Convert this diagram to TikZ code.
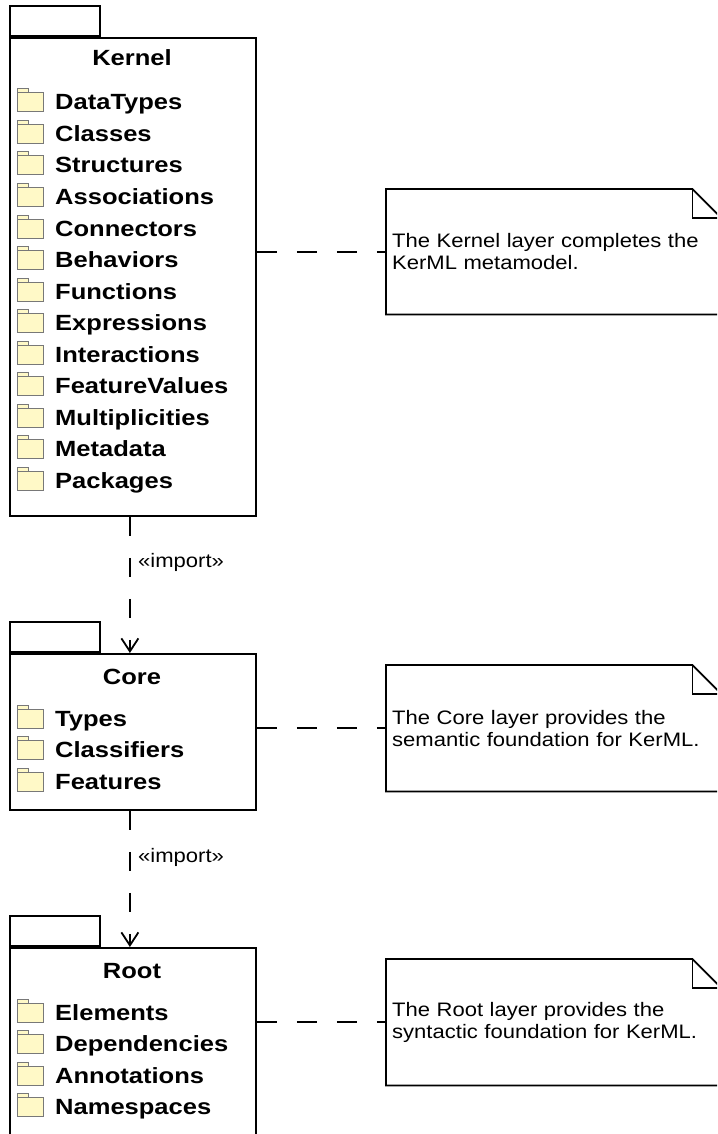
\documentclass[tikz,border=0pt]{standalone}
\usepackage{fontspec}
\setmainfont{Liberation Sans}[FakeStretch=1.13]
\newfontfamily\pkgfont{Liberation Sans}[FakeStretch=1.16]
\usetikzlibrary{arrows.meta}
\definecolor{folderfill}{RGB}{255,249,199}
\definecolor{folderline}{RGB}{120,120,120}
\tikzset{
  every picture/.style={x=1pt,y=-1pt},
  pkgbody/.style={draw, line width=1.8pt, rectangle, inner sep=0pt, minimum width=246pt, anchor=north west},
  pkgtab/.style={draw, line width=1.8pt, rectangle, inner sep=0pt, minimum width=90pt, minimum height=30pt, anchor=south west},
  ptitle/.style={font=\pkgfont\fontsize{22}{26}\selectfont\bfseries, inner sep=0pt, anchor=base},
  pitem/.style={font=\pkgfont\fontsize{22}{26}\selectfont\bfseries, inner sep=0pt, anchor=base west},
  folder/.pic={
    \draw[folderline, fill=folderfill, line width=1pt] (0,-13) rectangle (11,-9);
    \draw[folderline, fill=folderfill, line width=1pt] (0,-9) rectangle (26,10);
  },
  notenode/.style={rectangle, inner xsep=6pt, inner ysep=0pt, minimum width=335pt, text width=323pt, align=left, anchor=north west, font=\fontsize{19.5}{22}\selectfont},
  noteline/.style={draw, line width=1.8pt, line join=miter},
  notelink/.style={line width=1.8pt, dash pattern=on 20pt off 20pt},
  implink/.style={line width=1.8pt, dash pattern=on 19pt off 22pt, -{Straight Barb[length=13pt,width=17pt,line width=1.8pt]}},
  implabel/.style={font=\fontsize{19.5}{22}\selectfont, inner sep=0pt, anchor=west},
}
\begin{document}
\begin{tikzpicture}
\useasboundingbox (0,0) rectangle (717,1134);
\clip (0,0) rectangle (717,1134);

% ---------- Kernel ----------
\node[pkgbody, minimum height=478pt] (kernel) at (9,37) {};
\node[pkgtab] (kerneltab) at (kernel.north west) {};
\node[ptitle] (kerneltitle) at (132,66) {Kernel};
\foreach [count=\i] \t in {DataTypes,Classes,Structures,Associations,Connectors,Behaviors,Functions,Expressions,Interactions,FeatureValues,Multiplicities,Metadata,Packages}{
  \pic at (17,{102+31.5*(\i-1)}) {folder};
  \node[pitem] (k\i) at (55,{110+31.5*(\i-1)}) {\t};
}

% ---------- Core ----------
\node[pkgbody, minimum height=156pt] (core) at (9,653) {};
\node[pkgtab] (coretab) at (core.north west) {};
\node[ptitle] (coretitle) at (132,684) {Core};
\foreach [count=\i] \t in {Types,Classifiers,Features}{
  \pic at (17,{718+31.5*(\i-1)}) {folder};
  \node[pitem] (c\i) at (55,{726+31.5*(\i-1)}) {\t};
}

% ---------- Root ----------
\node[pkgbody, minimum height=203pt] (root) at (9,947) {};
\node[pkgtab] (roottab) at (root.north west) {};
\node[ptitle] (roottitle) at (132,978) {Root};
\foreach [count=\i] \t in {Elements,Dependencies,Annotations,Namespaces}{
  \pic at (17,{1012+31.5*(\i-1)}) {folder};
  \node[pitem] (r\i) at (55,{1020+31.5*(\i-1)}) {\t};
}

% ---------- Notes ----------
\node[notenode, minimum height=125pt] (knote) at (386,189) {The Kernel layer completes the\\KerML metamodel.};
\node[notenode, minimum height=126pt] (cnote) at (386,665) {The Core layer provides the\\semantic foundation for KerML.};
\node[notenode, minimum height=126pt] (rnote) at (386,959) {The Root layer provides the\\syntactic foundation for KerML.};
\foreach \n in {knote,cnote,rnote}{
  \draw[noteline] (\n.north west) -- ([xshift=-29pt]\n.north east) -- ([yshift=-29pt]\n.north east) -- (\n.south east) -- (\n.south west) -- cycle;
  \draw[noteline] ([xshift=-29pt]\n.north east) |- ([yshift=-29pt]\n.north east);
}

% ---------- Note links ----------
\draw[notelink] (kernel.east |- knote.west) -- (knote.west);
\draw[notelink] (core.east |- cnote.west) -- (cnote.west);
\draw[notelink] (root.east |- rnote.west) -- (rnote.west);

% ---------- Imports ----------
\draw[implink] ([xshift=-3pt]kernel.south) -- ([xshift=-3pt]core.north);
\node[implabel] (imp1) at (138,562) {«import»};
\draw[implink] ([xshift=-3pt]core.south) -- ([xshift=-3pt]root.north);
\node[implabel] (imp2) at (138,857) {«import»};
\end{tikzpicture}
\end{document}
